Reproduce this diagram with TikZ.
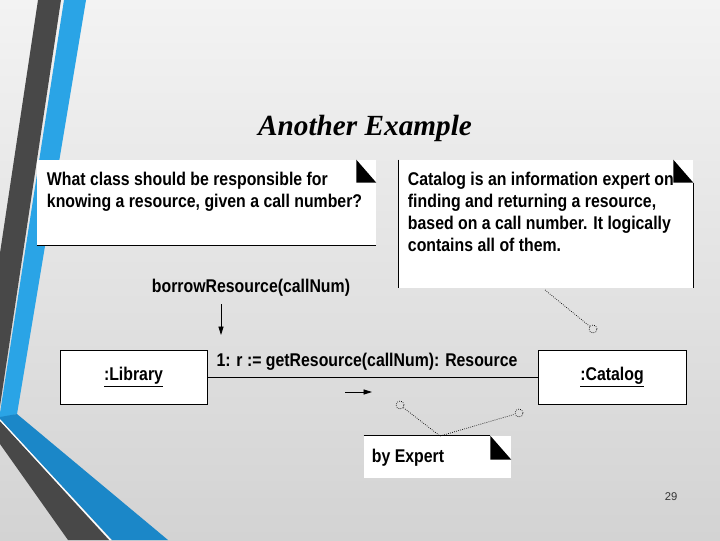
\documentclass[tikz,border=0pt]{standalone}
\usepackage{fontspec}
\setmainfont{Liberation Sans}[FakeStretch=0.86]
\newfontfamily\titlefont{Liberation Serif}
\newfontfamily\pagefont{Liberation Sans}
\usepackage{tikz}
\usetikzlibrary{positioning, calc, arrows.meta}
\definecolor{slideGray}{RGB}{72, 72, 72}
\definecolor{slideBlue}{RGB}{42, 164, 230}
\definecolor{slideDeepBlue}{RGB}{27, 135, 200}
\definecolor{bgLight}{RGB}{243, 243, 243}
\definecolor{bgDark}{RGB}{211, 211, 211}

\begin{document}
\begin{tikzpicture}[
    x=0.025cm, y=-0.025cm,
    every node/.style={font=\fontsize{13.1}{15.8}\selectfont\bfseries},
    note/.style={rectangle, fill=white, inner sep=0pt},
    notetext/.style={anchor=north west, inner sep=0pt, align=left},
    object/.style={rectangle, draw=black, fill=white, line width=0.6pt,
                   minimum width=3.675cm, minimum height=1.35cm, inner sep=0pt},
    fold/.style={fill=black},
    edge/.style={draw=black, line width=0.6pt},
    msg/.style={-{Triangle[length=6pt, width=3.6pt]}, line width=0.6pt},
    anchorline/.style={densely dotted, line width=0.5pt},
    anchorring/.style={circle, draw, densely dotted, line width=0.5pt,
                       minimum size=0.2cm, inner sep=0pt},
  ]
    \useasboundingbox (0,0) rectangle (720,540);

    % Slide background
    \fill[top color=bgLight, bottom color=bgDark] (0,0) rectangle (720,540);
    \fill[slideGray] (38,0) -- (61,0) -- (0,406) -- (0,253) -- cycle;
    \fill[slideBlue] (64,0) -- (86,0) -- (17,414) -- (0,418) -- (0,413) -- cycle;
    \fill[slideDeepBlue] (0,417) -- (17,414) -- (168,540) -- (112,540) -- (0,419) -- cycle;
    \fill[slideGray] (0,421) -- (109,540) -- (68,540) -- (0,444) -- cycle;
    \draw[white, line width=0.8pt] (0,420) -- (110.5,540);

    % Title
    \node[font={\fontsize{20.8}{24}\titlefont\bfseries\itshape}] (title) at (365,128) {Another Example};

    % Notes
    \node[note, minimum width=8.475cm, minimum height=2.125cm] (question) at (206.5,202.5) {};
    \fill[fold] (question.north east) ++(-20,0) -- ++(0,23) -- ++(20,0) -- cycle;
    \draw[edge] (question.south west) -- (question.south east);
    \node[notetext] (questiontext) at ($(question.north west)+(10,12)$)
         {What class should be responsible for\\knowing a resource, given a call number?};

    \node[note, minimum width=7.35cm, minimum height=3.2cm] (expert) at (546,224) {};
    \fill[fold] (expert.north east) ++(-20,0) -- ++(0,23) -- ++(20,0) -- cycle;
    \draw[edge] (expert.north west) -- (expert.south west);
    \draw[edge] ($(expert.north east)+(0,23)$) -- (expert.south east);
    \node[notetext] (experttext) at ($(expert.north west)+(9,12)$)
         {Catalog is an information expert on\\finding and returning a resource,\\based on a call number. It logically\\contains all of them.};

    \node[note, minimum width=3.675cm, minimum height=1.05cm] (pattern) at (437.5,457) {};
    \fill[fold] (pattern.north east) ++(-21,0) -- ++(0,24) -- ++(21,0) -- cycle;
    \draw[edge] (pattern.north west) -- ++(126,0);
    \node[notetext] (patterntext) at ($(pattern.north west)+(8,13)$) {by Expert};

    % Objects and link
    \node[object] (library) at (133.5,377) {\underline{:Library}};
    \node[object, minimum width=3.7cm] (catalog) at (612,377) {\underline{:Catalog}};
    \draw[edge] (library) -- (catalog);
    \node (getres) at (367,362) {1: r := getResource(callNum): Resource};

    % Messages
    \node (borrow) at (251,288) {borrowResource(callNum)};
    \coordinate (borrowtail) at (221,304);
    \coordinate (borrowhead) at (221,335);
    \draw[msg] (borrowtail) -- (borrowhead);
    \coordinate (gettail) at (345,392);
    \coordinate (gethead) at (372,392);
    \draw[msg] (gettail) -- (gethead);

    % Note anchors
    \node[anchorring] (ringcatalog) at (593,329) {};
    \node[anchorring] (ringlink) at (400,405) {};
    \node[anchorring] (ringcatalogb) at (519,413) {};
    \coordinate (expertfoot) at (545,290);
    \coordinate (patternhead) at (440,436);
    \draw[anchorline] (expertfoot) -- (ringcatalog);
    \draw[anchorline] (ringlink) -- (patternhead);
    \draw[anchorline] (patternhead) -- (ringcatalogb);

    % Page number
    \node[font=\fontsize{8}{8}\pagefont, text=black!80] (pagenum) at (671,497) {29};
  \end{tikzpicture}
\end{document}
